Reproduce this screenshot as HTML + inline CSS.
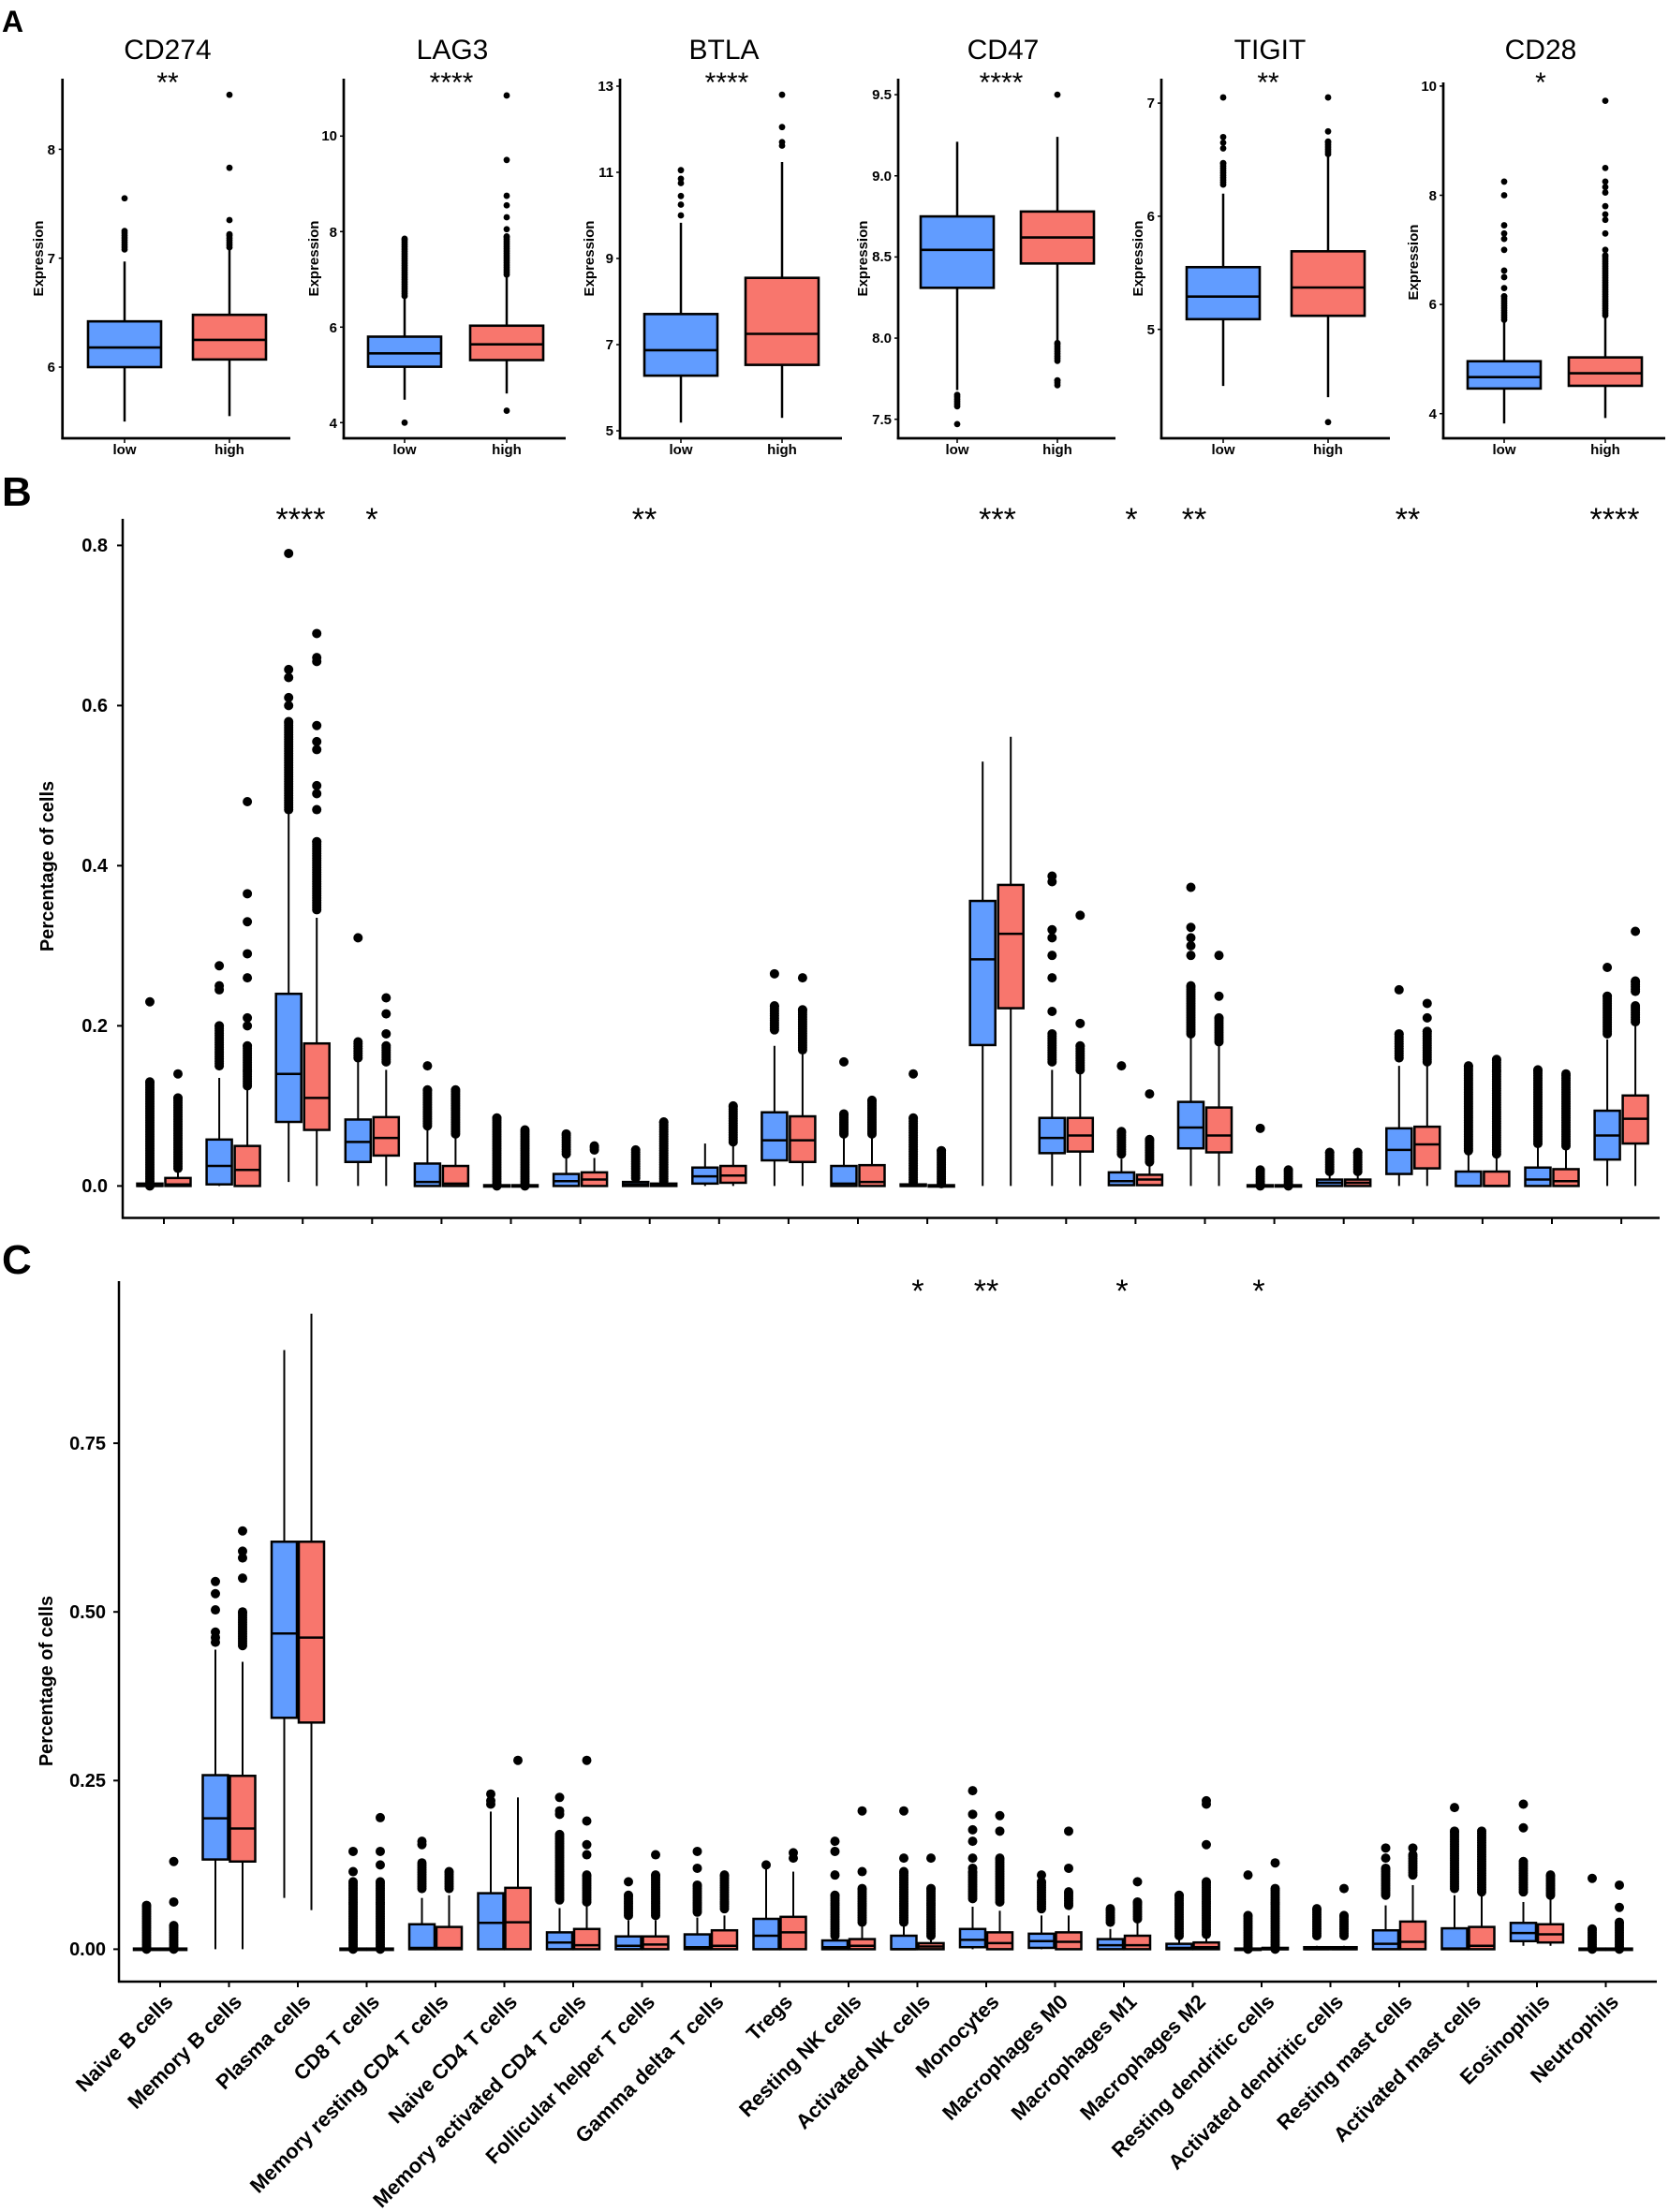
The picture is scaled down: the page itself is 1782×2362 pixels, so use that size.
<!DOCTYPE html>
<html><head><meta charset="utf-8"><style>
html,body{margin:0;padding:0;background:#fff;}
svg{display:block;font-family:"Liberation Sans",Arial,sans-serif;}
.b{font-weight:bold;}
</style></head><body>
<svg id="s" width="1782" height="2362" viewBox="0 0 1782 2362" xmlns="http://www.w3.org/2000/svg">
<rect width="1782" height="2362" fill="#fff"/>
<g id="shapes"></g>
<text x="2" y="34" class="b" font-size="32">A</text>
<text x="2" y="540" class="b" font-size="44">B</text>
<text x="2" y="1360" class="b" font-size="44">C</text>

<g font-size="30" text-anchor="middle">
<text x="179" y="63">CD274</text>
<text x="483" y="63">LAG3</text>
<text x="773" y="63">BTLA</text>
<text x="1071" y="63">CD47</text>
<text x="1356" y="63">TIGIT</text>
<text x="1645" y="63">CD28</text>
</g>
<g font-size="30" text-anchor="middle">
<text x="179" y="98">**</text>
<text x="482" y="98">****</text>
<text x="776" y="98">****</text>
<text x="1069" y="98">****</text>
<text x="1354" y="98">**</text>
<text x="1645" y="98">*</text>
</g>
<g class="b" font-size="15" text-anchor="middle">
<text transform="translate(46,276) rotate(-90)">Expression</text>
<text transform="translate(340,276) rotate(-90)">Expression</text>
<text transform="translate(634,276) rotate(-90)">Expression</text>
<text transform="translate(926,276) rotate(-90)">Expression</text>
<text transform="translate(1220,276) rotate(-90)">Expression</text>
<text transform="translate(1514,280) rotate(-90)">Expression</text>
</g>
<g class="b" font-size="15" text-anchor="end">
<text x="59" y="165">8</text><text x="59" y="281">7</text><text x="59" y="397">6</text>
<text x="360" y="150">10</text><text x="360" y="253">8</text><text x="360" y="355">6</text><text x="360" y="457">4</text>
<text x="655" y="97">13</text><text x="655" y="189">11</text><text x="655" y="281">9</text><text x="655" y="373">7</text><text x="655" y="465">5</text>
<text x="952" y="106">9.5</text><text x="952" y="193">9.0</text><text x="952" y="279">8.5</text><text x="952" y="366">8.0</text><text x="952" y="453">7.5</text>
<text x="1233" y="115">7</text><text x="1233" y="236">6</text><text x="1233" y="357">5</text>
<text x="1534" y="97">10</text><text x="1534" y="214">8</text><text x="1534" y="330">6</text><text x="1534" y="447">4</text>
</g>
<g class="b" font-size="15" text-anchor="middle">
<text x="133" y="485">low</text><text x="245" y="485">high</text>
<text x="432" y="485">low</text><text x="541" y="485">high</text>
<text x="727" y="485">low</text><text x="835" y="485">high</text>
<text x="1022" y="485">low</text><text x="1129" y="485">high</text>
<text x="1306" y="485">low</text><text x="1418" y="485">high</text>
<text x="1606" y="485">low</text><text x="1714" y="485">high</text>
</g>

<g class="b" font-size="20" text-anchor="end">
<text x="115" y="589">0.8</text>
<text x="115" y="760">0.6</text>
<text x="115" y="931">0.4</text>
<text x="115" y="1102">0.2</text>
<text x="115" y="1273">0.0</text>
</g>
<text transform="translate(57,925) rotate(-90)" class="b" font-size="20" text-anchor="middle">Percentage of cells</text>
<g font-size="34" text-anchor="middle">
<text x="321" y="566">****</text>
<text x="397" y="566">*</text>
<text x="688" y="566">**</text>
<text x="1065" y="566">***</text>
<text x="1208" y="566">*</text>
<text x="1275" y="566">**</text>
<text x="1503" y="566">**</text>
<text x="1724" y="566">****</text>
</g>

<g class="b" font-size="20" text-anchor="end">
<text x="113" y="1548">0.75</text>
<text x="113" y="1728">0.50</text>
<text x="113" y="1908">0.25</text>
<text x="113" y="2088">0.00</text>
</g>
<text transform="translate(56,1795) rotate(-90)" class="b" font-size="20" text-anchor="middle">Percentage of cells</text>
<g font-size="34" text-anchor="middle">
<text x="980" y="1390">*</text>
<text x="1053" y="1390">**</text>
<text x="1198" y="1390">*</text>
<text x="1344" y="1390">*</text>
</g>
<g class="b" font-size="22" text-anchor="end">
<text transform="translate(186,2139) rotate(-45)">Naive B cells</text>
<text transform="translate(259.5,2139) rotate(-45)">Memory B cells</text>
<text transform="translate(333,2139) rotate(-45)">Plasma cells</text>
<text transform="translate(406.5,2139) rotate(-45)">CD8 T cells</text>
<text transform="translate(480,2139) rotate(-45)">Memory resting CD4 T cells</text>
<text transform="translate(553.5,2139) rotate(-45)">Naive CD4 T cells</text>
<text transform="translate(627,2139) rotate(-45)">Memory activated CD4 T cells</text>
<text transform="translate(700.5,2139) rotate(-45)">Follicular helper T cells</text>
<text transform="translate(774,2139) rotate(-45)">Gamma delta T cells</text>
<text transform="translate(847.5,2139) rotate(-45)">Tregs</text>
<text transform="translate(921,2139) rotate(-45)">Resting NK cells</text>
<text transform="translate(994.5,2139) rotate(-45)">Activated NK cells</text>
<text transform="translate(1068,2139) rotate(-45)">Monocytes</text>
<text transform="translate(1141.5,2139) rotate(-45)">Macrophages M0</text>
<text transform="translate(1215,2139) rotate(-45)">Macrophages M1</text>
<text transform="translate(1288.5,2139) rotate(-45)">Macrophages M2</text>
<text transform="translate(1362,2139) rotate(-45)">Resting dendritic cells</text>
<text transform="translate(1435.5,2139) rotate(-45)">Activated dendritic cells</text>
<text transform="translate(1509,2139) rotate(-45)">Resting mast cells</text>
<text transform="translate(1582.5,2139) rotate(-45)">Activated mast cells</text>
<text transform="translate(1656,2139) rotate(-45)">Eosinophils</text>
<text transform="translate(1729.5,2139) rotate(-45)">Neutrophils</text>
</g>
</svg>
<script>
(function(){
var NS='http://www.w3.org/2000/svg';
var G=document.getElementById('shapes');
function el(t,a){var e=document.createElementNS(NS,t);for(var k in a)e.setAttribute(k,a[k]);G.appendChild(e);return e;}
function line(x1,y1,x2,y2,w){el('line',{x1:x1,y1:y1,x2:x2,y2:y2,stroke:'#000','stroke-width':w});}
var BL='#619CFF',RD='#F8766D';
function box(cx,hw,d,Y,fill,sw,r,ww){
  var q1=d[0],m=d[1],q3=d[2],lo=d[3],hi=d[4],dn=d[5]||[],pts=d[6]||[];
  line(cx,Y(lo),cx,Y(q1),ww);line(cx,Y(q3),cx,Y(hi),ww);
  dn.forEach(function(ab){var ya=Y(ab[0]),yb=Y(ab[1]);for(var y=ya;y>=yb-0.01;y-=2.5)el('circle',{cx:cx,cy:y,r:r,fill:'#000'});el('circle',{cx:cx,cy:yb,r:r,fill:'#000'});});
  pts.forEach(function(v){el('circle',{cx:cx,cy:Y(v),r:r,fill:'#000'});});
  var yt=Y(q3),yb2=Y(q1),h=Math.max(yb2-yt,1.5);
  el('rect',{x:cx-hw,y:yt,width:2*hw,height:h,fill:fill,stroke:'#000','stroke-width':sw});
  line(cx-hw,Y(m),cx+hw,Y(m),sw);
}
var A=[
 {ax:66.7,end:310,top:84,f:function(v){return 392-(v-6)*116.3;},ticks:[8,7,6],c:[133,245],
  d:[[6.0,6.18,6.42,5.5,6.97,[[7.08,7.25]],[7.55]],[6.07,6.25,6.48,5.55,7.1,[[7.1,7.22]],[7.35,7.83,8.5]]]},
 {ax:367,end:604,top:84,f:function(v){return 349.3-(v-6)*51;},ticks:[10,8,6,4],c:[432,541],
  d:[[5.17,5.45,5.8,4.48,6.6,[[6.65,7.85]],[4.0]],[5.31,5.64,6.03,4.61,7.07,[[7.1,7.9]],[8.05,8.3,8.55,8.75,9.5,10.85,4.25]]]},
 {ax:662,end:899,top:84,f:function(v){return 460-(v-5)*46;},ticks:[13,11,9,7,5],c:[727,835],
  d:[[6.28,6.87,7.71,5.19,9.83,[],[10.0,10.25,10.45,10.75,10.85,11.05]],[6.53,7.25,8.55,5.3,11.24,[],[11.62,11.7,12.05,12.8]]]},
 {ax:959,end:1191,top:84,f:function(v){return 447.7-(v-7.5)*173.3;},ticks:[9.5,9,8.5,8,7.5],c:[1022,1129],
  d:[[8.31,8.544,8.75,7.68,9.21,[[7.58,7.65]],[7.47]],[8.46,8.62,8.78,7.97,9.24,[[7.86,7.97],[7.71,7.74]],[9.5]]]},
 {ax:1240,end:1484,top:84,f:function(v){return 351.7-(v-5)*120.8;},ticks:[7,6,5],c:[1306,1418],
  d:[[5.09,5.29,5.55,4.5,6.2,[[6.28,6.47]],[6.6,6.65,6.7,7.05]],[5.12,5.37,5.69,4.4,6.55,[[6.55,6.66]],[6.75,7.05,4.18]]]},
 {ax:1541,end:1778,top:88,f:function(v){return 441.7-(v-4)*58.3;},ticks:[10,8,6,4],c:[1606,1714],
  d:[[4.46,4.67,4.96,3.82,5.71,[[5.72,6.15]],[6.3,6.5,6.62,7.0,7.2,7.3,7.45,8.0,8.25]],[4.51,4.74,5.03,3.92,5.8,[[5.8,6.9]],[7.0,7.3,7.55,7.65,7.8,8.05,8.15,8.25,8.5,9.73]]]}
];
A.forEach(function(p){
  line(p.ax,p.top,p.ax,469,2.7);line(p.ax-1.3,468,p.end,468,2.7);
  p.ticks.forEach(function(t){line(p.ax-4,p.f(t),p.ax,p.f(t),1.5);});
  p.c.forEach(function(c){line(c,468,c,473,1.5);});
  box(p.c[0],39,p.d[0],p.f,BL,2.6,3.4,2.5);
  box(p.c[1],39,p.d[1],p.f,RD,2.6,3.4,2.5);
});
var YB=function(v){return 1266.4-v*855;};
var B=[
[[0,0,.003,0,0,[[0,.13]],[.23]],[0,.002,.01,0,.02,[[.022,.11]],[.14]]],
[[.002,.025,.058,0,.135,[[.15,.2]],[.245,.25,.275]],[0,.02,.05,0,.12,[[.125,.175]],[.2,.21,.26,.29,.33,.365,.48]]],
[[.08,.14,.24,.005,.47,[[.47,.58]],[.6,.61,.635,.645,.79]],[.07,.11,.178,0,.335,[[.345,.43]],[.47,.49,.5,.545,.555,.575,.655,.66,.69]]],
[[.03,.055,.083,0,.16,[[.16,.18]],[.31]],[.038,.06,.086,0,.145,[[.155,.175]],[.19,.215,.235]]],
[[0,.005,.028,0,.07,[[.075,.12]],[.15]],[0,.003,.025,0,.06,[[.065,.12]],[]]],
[[0,0,.001,0,0,[[0,.085]],[]],[0,0,.001,0,0,[[0,.07]],[]]],
[[0,.006,.015,0,.035,[[.04,.065]],[]],[0,.008,.017,0,.035,[[.045,.05]],[]]],
[[0,.002,.005,0,.01,[[.01,.045]],[]],[0,.001,.003,0,.005,[[.006,.08]],[]]],
[[.003,.012,.023,0,.053,[],[]],[.004,.013,.025,0,.05,[[.055,.1]],[]]],
[[.032,.057,.092,0,.175,[[.195,.225]],[.265]],[.03,.057,.087,0,.165,[[.17,.22]],[.26]]],
[[0,.003,.025,0,.06,[[.065,.09]],[.155]],[0,.005,.026,0,.06,[[.065,.107]],[]]],
[[0,0,.002,0,.003,[[.005,.085]],[.14]],[0,0,.001,0,.002,[[.003,.044]],[]]],
[[.176,.283,.356,0,.53,[],[]],[.222,.315,.376,0,.561,[],[]]],
[[.041,.06,.085,0,.145,[[.155,.19]],[.218,.26,.288,.31,.32,.38,.387]],[.043,.063,.085,0,.142,[[.145,.175]],[.203,.338]]],
[[.001,.006,.017,0,.034,[[.04,.068]],[.15]],[.001,.008,.014,0,.025,[[.03,.058]],[.115]]],
[[.047,.073,.105,0,.186,[[.19,.25]],[.288,.3,.31,.323,.373]],[.042,.063,.098,0,.177,[[.18,.21]],[.237,.288]]],
[[0,0,.001,0,0,[[0,.02]],[.072]],[0,0,.001,0,0,[[0,.02]],[]]],
[[0,.004,.008,0,.015,[[.018,.042]],[]],[0,.004,.008,0,.015,[[.018,.042]],[]]],
[[.015,.045,.072,0,.15,[[.16,.19]],[.245]],[.022,.052,.074,0,.15,[[.155,.193]],[.21,.228]]],
[[0,0,.018,0,.04,[[.044,.15]],[]],[0,0,.018,0,.04,[[.04,.158]],[]]],
[[0,.008,.023,0,.05,[[.053,.145]],[]],[0,.006,.021,0,.045,[[.05,.14]],[]]],
[[.033,.063,.094,0,.183,[[.19,.237]],[.273]],[.053,.084,.113,0,.202,[[.205,.225],[.243,.256]],[.318]]]
];
line(131,554,131,1301.5,2.5);line(130,1300.5,1772,1300.5,2.5);
[0,.2,.4,.6,.8].forEach(function(t){line(125,YB(t),131,YB(t),2);});
B.forEach(function(g,i){var x=175+i*74.1;line(x,1300.5,x,1307,2);
  box(x-15,13.5,g[0],YB,BL,2.5,5,2);box(x+15,13.5,g[1],YB,RD,2.5,5,2);});
var YC=function(v){return 2081.4-v*720.4;};
var C=[
[[0,0,.001,0,0,[[0,.065]],[]],[0,0,.001,0,0,[[0,.035]],[.07,.13]]],
[[.133,.194,.258,0,.444,[],[.455,.462,.47,.503,.527,.545]],[.13,.179,.257,0,.426,[[.45,.5]],[.55,.58,.59,.62]]],
[[.343,.468,.604,.076,.888,[],[]],[.336,.462,.604,.058,.942,[],[]]],
[[0,0,.001,0,0,[[0,.1]],[.115,.145]],[0,0,.001,0,0,[[0,.1]],[.125,.145,.195]]],
[[0,.002,.037,0,.076,[[.09,.128]],[.155,.16]],[0,.002,.033,0,.08,[[.09,.115]],[]]],
[[0,.039,.083,0,.204,[],[.215,.22,.23]],[0,.04,.091,0,.225,[],[.28]]],
[[0,.01,.025,0,.061,[[.073,.17]],[.2,.205,.225]],[0,.006,.03,0,.065,[[.07,.11]],[.14,.155,.19,.28]]],
[[0,.005,.019,0,.043,[[.05,.08]],[.1]],[0,.007,.019,0,.043,[[.05,.11]],[.14]]],
[[0,.003,.022,0,.047,[[.055,.095]],[.12,.145]],[0,.005,.028,0,.05,[[.06,.11]],[]]],
[[0,.02,.045,0,.12,[],[.125]],[0,.025,.048,0,.115,[],[.135,.143]]],
[[0,.003,.013,0,.018,[[.02,.08]],[.11,.145,.16]],[0,.005,.015,0,.035,[[.04,.09]],[.115,.205]]],
[[0,0,.02,0,.035,[[.04,.115]],[.135,.205]],[0,.004,.009,0,.018,[[.02,.09]],[.135]]],
[[.003,.014,.03,0,.063,[[.075,.115]],[.12,.135,.16,.177,.2,.235]],[0,.009,.025,0,.057,[[.07,.135]],[.175,.198]]],
[[.002,.012,.023,0,.05,[[.06,.1]],[.11]],[0,.011,.025,0,.05,[[.065,.085]],[.12,.175]]],
[[0,.006,.015,0,.03,[[.04,.06]],[]],[0,.006,.02,0,.04,[[.045,.07]],[.1]]],
[[0,.002,.008,0,.015,[[.02,.08]],[]],[0,.003,.01,0,.02,[[.022,.1]],[.155,.215,.22]]],
[[0,0,.001,0,0,[[0,.05]],[.11]],[0,0,.002,0,.003,[[0,.09]],[.128]]],
[[0,0,.003,0,.005,[[.02,.06]],[]],[0,0,.003,0,.005,[[.02,.05]],[.09]]],
[[0,.008,.028,0,.065,[[.08,.12]],[.135,.15]],[0,.011,.041,0,.095,[[.11,.14]],[.15]]],
[[0,.001,.031,0,.08,[[.09,.175]],[.21]],[0,.005,.033,0,.08,[[.085,.175]],[]]],
[[.012,.024,.039,.005,.07,[[.085,.13]],[.18,.215]],[.01,.022,.037,.005,.075,[[.08,.11]],[]]],
[[0,0,.001,0,0,[[0,.03]],[.105]],[0,0,.001,0,0,[[0,.04]],[.062,.095]]]
];
line(127,1368,127,2117,2.5);line(126,2116,1769,2116,2.5);
[0,.25,.5,.75].forEach(function(t){line(121,YC(t),127,YC(t),2);});
C.forEach(function(g,i){var x=171+i*73.5;line(x,2116,x,2122,2);
  box(x-14.5,13.5,g[0],YC,BL,2.5,5,2);box(x+14.5,13.5,g[1],YC,RD,2.5,5,2);});
})();
</script>
</body></html>
